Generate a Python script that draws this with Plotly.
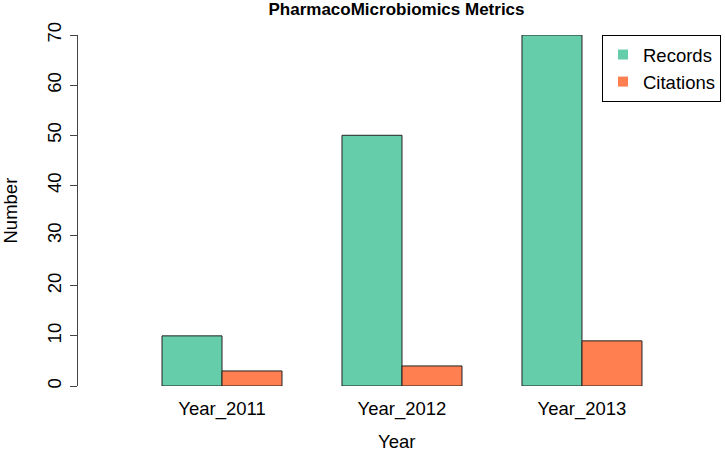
import plotly.graph_objects as go

years = ["Year_2011", "Year_2012", "Year_2013"]
records = [10, 50, 70]
citations = [3, 4, 9]
y_ticks = [0, 10, 20, 30, 40, 50, 60, 70]
series_names = ["Records", "Citations"]
series_colors = ["#66CDAA", "#FF7F50"]

font_family = "Liberation Sans, Arial, sans-serif"
FS = 18.5

fig = go.Figure()
for name, vals, col in zip(series_names, [records, citations], series_colors):
    fig.add_trace(go.Bar(x=years, y=vals, name=name, showlegend=False,
                         marker=dict(color=col, line=dict(color="#222222", width=1))))
# legend entries (square keys, like R's legend fill boxes)
for name, col in zip(series_names, series_colors):
    fig.add_trace(go.Scatter(x=[None], y=[None], mode="markers", name=name,
                             marker=dict(symbol="square", size=10, color=col,
                                         line=dict(width=0))))

W, H = 725, 451
fig.update_layout(
    width=W, height=H,
    margin=dict(l=78, r=10, t=35, b=65, autoexpand=False),
    paper_bgcolor="white", plot_bgcolor="white",
    barmode="group", bargap=1/3, bargroupgap=0,
    font=dict(family=font_family, size=FS, color="black"),
    title=dict(text="<b>PharmacoMicrobiomics Metrics</b>", x=0.5, xanchor="center",
               xref="paper", y=1 - 9 / H, yanchor="middle", yref="container",
               font=dict(size=17), automargin=False),
    showlegend=True,
    legend=dict(x=1.0094, xanchor="right", y=1, yanchor="top",
                bordercolor="black", borderwidth=1, bgcolor="white",
                font=dict(size=FS), itemwidth=30, tracegroupgap=0),
    xaxis=dict(type="category", range=[-0.8, 2.739], showline=False, showgrid=False,
               zeroline=False, ticks="", ticklabelstandoff=9, automargin=False),
    yaxis=dict(range=[0, 70], tickvals=y_ticks, showgrid=False, zeroline=False,
               showline=True, linecolor="#444444", linewidth=1,
               ticks="outside", ticklen=7, tickcolor="#444444", tickangle=-90,
               ticklabelstandoff=2, automargin=False),
    annotations=[
        dict(text="Year", xref="paper", yref="paper", x=0.5, y=0, yshift=-55,
             xanchor="center", yanchor="middle", showarrow=False, font=dict(size=FS)),
        dict(text="Number", xref="paper", yref="paper", x=0, y=0.5, xshift=-68,
             xanchor="center", yanchor="middle", textangle=-90, showarrow=False,
             font=dict(size=FS)),
    ],
)

fig.write_html("out.html",
               config={"displayModeBar": False},
               post_script="document.body.style.margin='0';document.body.style.overflow='hidden';")
